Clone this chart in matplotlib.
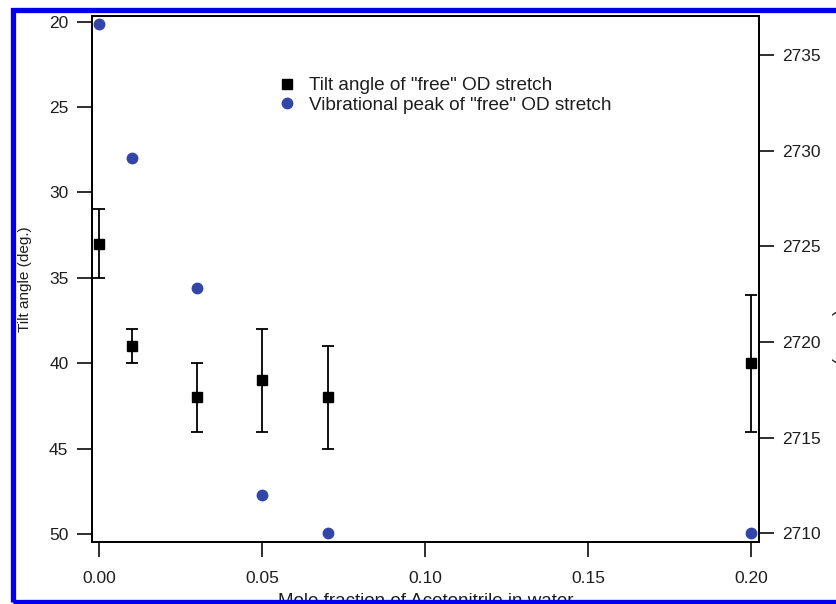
import matplotlib
matplotlib.use("Agg")
import matplotlib.pyplot as plt
from matplotlib.patches import Rectangle
from matplotlib.lines import Line2D

plt.rcParams['font.family'] = ['Liberation Sans', 'DejaVu Sans']

# Data
mole_fraction = [0.00, 0.01, 0.03, 0.05, 0.07, 0.20]
tilt_angle = [33, 39, 42, 41, 42, 40]
tilt_err_low = [2, 1, 2, 3, 3, 4]
tilt_err_high = [2, 1, 2, 3, 3, 4]
peak_wavenumber = [2736.6, 2729.6, 2722.8, 2712.0, 2710.0, 2710.0]

x_ticks = [0.00, 0.05, 0.10, 0.15, 0.20]
x_ticklabels = ["0.00", "0.05", "0.10", "0.15", "0.20"]
left_ticks = [20, 25, 30, 35, 40, 45, 50]
right_ticks = [2710, 2715, 2720, 2725, 2730, 2735]

W, H = 837, 604
TXT = '#1e1e1e'
BLUE_PT = '#3346a8'

fig = plt.figure(figsize=(W / 100, H / 100), dpi=100)
fig.patch.set_facecolor('white')

ax = fig.add_axes([92 / W, 1 - 542 / H, (759 - 92) / W, (542 - 16) / H])
ax.set_facecolor('white')
ax2 = ax.twinx()

ax.errorbar(mole_fraction, tilt_angle, yerr=[tilt_err_low, tilt_err_high],
            fmt='s', color='black', markersize=7, ecolor='black',
            elinewidth=1.3, capsize=4, capthick=1.3, zorder=3)
ax2.plot(mole_fraction, peak_wavenumber, 'o', color=BLUE_PT,
         markersize=7.5, linestyle='none', zorder=3)

ax.set_xlim(-0.0023, 0.2024)
ax.set_ylim(50.47, 19.67)
ax2.set_ylim(2709.55, 2737.04)

ax.set_xticks(x_ticks)
ax.set_xticklabels(x_ticklabels)
ax.set_yticks(left_ticks)
ax2.set_yticks(right_ticks)

for a in (ax, ax2):
    for s in a.spines.values():
        s.set_linewidth(1.3)
        s.set_color('black')

ax.tick_params(axis='x', direction='out', length=11, width=1.3, pad=10,
               labelsize=12.5, colors=TXT)
ax.tick_params(axis='y', direction='out', length=11, width=1.3, pad=6,
               labelsize=12.5, colors=TXT)
ax2.tick_params(axis='y', direction='out', length=11, width=1.3, pad=6,
                labelsize=12.5, colors=TXT)

ax.set_ylabel('Tilt angle (deg.)', fontsize=11, color=TXT)
ax.yaxis.set_label_coords((32 - 92) / (759 - 92), 0.5)
ax.set_xlabel('Mole fraction of Acetonitrile in water', fontsize=13.5,
              color=TXT, labelpad=5)

fig.text(840.5 / W, 1 - 280 / H, 'Wavenumber (cm$^{-1}$)', rotation=270,
         fontsize=13, color=TXT, ha='center', va='center')

handles = [
    Line2D([], [], marker='s', color='black', linestyle='none', markersize=7.5),
    Line2D([], [], marker='o', color=BLUE_PT, linestyle='none', markersize=7.5),
]
labels = ['Tilt angle of "free" OD stretch', 'Vibrational peak of "free" OD stretch']
ax2.legend(handles, labels, loc='upper left',
           bbox_to_anchor=((277 - 92) / (759 - 92), (542 - 77) / (542 - 16)),
           frameon=False, fontsize=13.7, handlelength=1.0, handletextpad=0.7,
           labelspacing=0.1, borderpad=0, borderaxespad=0,
           labelcolor=TXT)

fig.patches.append(Rectangle((13 / W, 2.5 / H), (860 - 13) / W, (H - 9.7 - 2.5) / H,
                             transform=fig.transFigure, fill=False,
                             edgecolor='#0000ee', linewidth=3.8, zorder=10))

fig.savefig('out.png', dpi=100, facecolor='white')
